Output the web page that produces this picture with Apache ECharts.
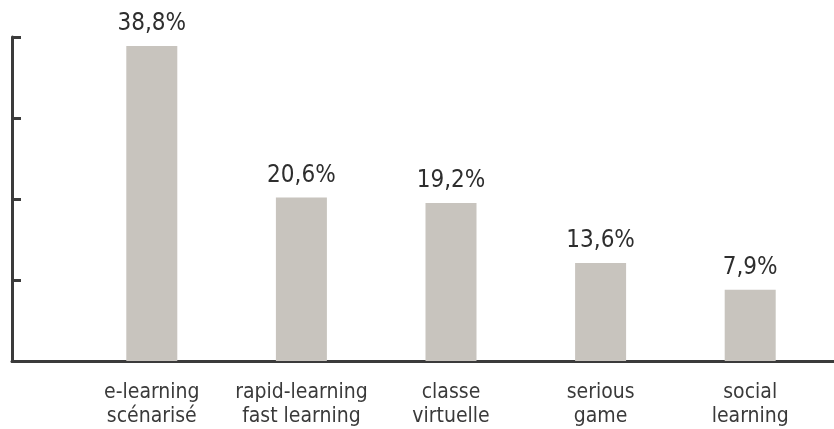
<!DOCTYPE html>
<html>
<head>
<meta charset="utf-8">
<script src="https://cdn.jsdelivr.net/npm/echarts@6/dist/echarts.min.js"></script>
<style>html,body{margin:0;padding:0;background:#fff}#c{width:834px;height:429px}</style>
</head>
<body>
<div id="c"></div>
<script>
const categories = ['e-learning\nscénarisé', 'rapid-learning\nfast learning', 'classe\nvirtuelle', 'serious\ngame', 'social\nlearning'];
const barValues = [38.9, 20.2, 19.5, 12.1, 8.8];
const barLabels = ['38,8%', '20,6%', '19,2%', '13,6%', '7,9%'];
const yTicks = [0, 10, 20, 30, 40];

const axisColor = '#3b3b3b';
const condensed = "'DejaVu Sans Condensed', 'Liberation Sans', sans-serif";
const chart = echarts.init(document.getElementById('c'), null, {renderer: 'canvas'});
chart.setOption({
  animation: false,
  grid: [
    {left: 77, right: 9, top: 37, bottom: 67.5},
    {left: 12, right: 0, top: 37, bottom: 67.5}
  ],
  xAxis: [
    {
      type: 'category', gridIndex: 0, data: categories,
      axisLine: {show: false}, axisTick: {show: false},
      axisLabel: {
        color: '#3a3a3a', fontFamily: condensed, fontSize: 21,
        lineHeight: 24, margin: 20, interval: 0
      }
    },
    {
      type: 'value', gridIndex: 1, min: 0, max: 1,
      axisLine: {show: true, lineStyle: {color: axisColor, width: 3}},
      axisTick: {show: false}, axisLabel: {show: false}, splitLine: {show: false}
    }
  ],
  yAxis: [
    {
      type: 'value', gridIndex: 0, min: yTicks[0], max: yTicks[yTicks.length - 1], interval: 10,
      show: false
    },
    {
      type: 'value', gridIndex: 1, min: yTicks[0], max: yTicks[yTicks.length - 1], interval: 10,
      axisLine: {show: true, lineStyle: {color: axisColor, width: 3}},
      axisTick: {show: true, inside: true, length: 9, lineStyle: {color: axisColor, width: 3}},
      axisLabel: {show: false}, splitLine: {show: false}
    }
  ],
  series: [{
    type: 'bar', xAxisIndex: 0, yAxisIndex: 0,
    data: barValues, barWidth: 51,
    itemStyle: {color: '#c8c4be'},
    label: {
      show: true, position: 'top', distance: 10,
      formatter: p => barLabels[p.dataIndex],
      color: '#2e2e2e', fontFamily: condensed, fontSize: 24
    }
  }]
});
</script>
</body>
</html>
